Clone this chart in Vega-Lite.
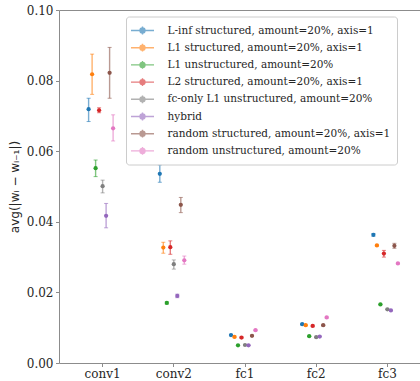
{
  "$schema": "https://vega.github.io/schema/vega-lite/v6.json",
  "width": 372,
  "height": 353,
  "autosize": "none",
  "padding": {"left": 59, "top": 10, "right": 0, "bottom": 18},
  "background": "white",
  "config": {
    "view": {"stroke": "#8c8c8c", "strokeWidth": 1},
    "axis": {
      "domain": false,
      "grid": false,
      "tickColor": "#8c8c8c",
      "tickSize": 3.5,
      "labelFont": "DejaVu Serif",
      "labelFontSize": 12,
      "labelColor": "#262626",
      "titleFont": "DejaVu Sans",
      "titleFontSize": 12,
      "titleFontWeight": "normal",
      "titleColor": "#262626"
    }
  },
  "data": {
    "values": [
      {"layer": "conv1", "method": "L-inf structured, amount=20%, axis=1", "mean": 0.0719, "lo": 0.0684, "hi": 0.0750},
      {"layer": "conv1", "method": "L1 structured, amount=20%, axis=1", "mean": 0.0818, "lo": 0.0761, "hi": 0.0875},
      {"layer": "conv1", "method": "L1 unstructured, amount=20%", "mean": 0.0552, "lo": 0.0528, "hi": 0.0575},
      {"layer": "conv1", "method": "L2 structured, amount=20%, axis=1", "mean": 0.0716, "lo": 0.0709, "hi": 0.0723},
      {"layer": "conv1", "method": "fc-only L1 unstructured, amount=20%", "mean": 0.0501, "lo": 0.0482, "hi": 0.0518},
      {"layer": "conv1", "method": "hybrid", "mean": 0.0417, "lo": 0.0383, "hi": 0.0452},
      {"layer": "conv1", "method": "random structured, amount=20%, axis=1", "mean": 0.0822, "lo": 0.0750, "hi": 0.0894},
      {"layer": "conv1", "method": "random unstructured, amount=20%", "mean": 0.0665, "lo": 0.0629, "hi": 0.0703},
      {"layer": "conv2", "method": "L-inf structured, amount=20%, axis=1", "mean": 0.0536, "lo": 0.0512, "hi": 0.0561},
      {"layer": "conv2", "method": "L1 structured, amount=20%, axis=1", "mean": 0.0327, "lo": 0.0311, "hi": 0.0342},
      {"layer": "conv2", "method": "L1 unstructured, amount=20%", "mean": 0.0170, "lo": 0.0167, "hi": 0.0173},
      {"layer": "conv2", "method": "L2 structured, amount=20%, axis=1", "mean": 0.0328, "lo": 0.0308, "hi": 0.0346},
      {"layer": "conv2", "method": "fc-only L1 unstructured, amount=20%", "mean": 0.0280, "lo": 0.0266, "hi": 0.0292},
      {"layer": "conv2", "method": "hybrid", "mean": 0.0190, "lo": 0.0185, "hi": 0.0195},
      {"layer": "conv2", "method": "random structured, amount=20%, axis=1", "mean": 0.0448, "lo": 0.0426, "hi": 0.0469},
      {"layer": "conv2", "method": "random unstructured, amount=20%", "mean": 0.0291, "lo": 0.0280, "hi": 0.0303},
      {"layer": "fc1", "method": "L-inf structured, amount=20%, axis=1", "mean": 0.0079, "lo": 0.0077, "hi": 0.0081},
      {"layer": "fc1", "method": "L1 structured, amount=20%, axis=1", "mean": 0.0074, "lo": 0.0072, "hi": 0.0076},
      {"layer": "fc1", "method": "L1 unstructured, amount=20%", "mean": 0.0050, "lo": 0.0049, "hi": 0.0051},
      {"layer": "fc1", "method": "L2 structured, amount=20%, axis=1", "mean": 0.0072, "lo": 0.0070, "hi": 0.0074},
      {"layer": "fc1", "method": "fc-only L1 unstructured, amount=20%", "mean": 0.0051, "lo": 0.0050, "hi": 0.0052},
      {"layer": "fc1", "method": "hybrid", "mean": 0.0050, "lo": 0.0049, "hi": 0.0051},
      {"layer": "fc1", "method": "random structured, amount=20%, axis=1", "mean": 0.0077, "lo": 0.0075, "hi": 0.0079},
      {"layer": "fc1", "method": "random unstructured, amount=20%", "mean": 0.0093, "lo": 0.0091, "hi": 0.0095},
      {"layer": "fc2", "method": "L-inf structured, amount=20%, axis=1", "mean": 0.0110, "lo": 0.0108, "hi": 0.0112},
      {"layer": "fc2", "method": "L1 structured, amount=20%, axis=1", "mean": 0.0107, "lo": 0.0105, "hi": 0.0109},
      {"layer": "fc2", "method": "L1 unstructured, amount=20%", "mean": 0.0076, "lo": 0.0075, "hi": 0.0077},
      {"layer": "fc2", "method": "L2 structured, amount=20%, axis=1", "mean": 0.0105, "lo": 0.0103, "hi": 0.0107},
      {"layer": "fc2", "method": "fc-only L1 unstructured, amount=20%", "mean": 0.0073, "lo": 0.0072, "hi": 0.0074},
      {"layer": "fc2", "method": "hybrid", "mean": 0.0075, "lo": 0.0074, "hi": 0.0076},
      {"layer": "fc2", "method": "random structured, amount=20%, axis=1", "mean": 0.0107, "lo": 0.0105, "hi": 0.0109},
      {"layer": "fc2", "method": "random unstructured, amount=20%", "mean": 0.0129, "lo": 0.0127, "hi": 0.0131},
      {"layer": "fc3", "method": "L-inf structured, amount=20%, axis=1", "mean": 0.0363, "lo": 0.0359, "hi": 0.0367},
      {"layer": "fc3", "method": "L1 structured, amount=20%, axis=1", "mean": 0.0333, "lo": 0.0331, "hi": 0.0335},
      {"layer": "fc3", "method": "L1 unstructured, amount=20%", "mean": 0.0166, "lo": 0.0165, "hi": 0.0167},
      {"layer": "fc3", "method": "L2 structured, amount=20%, axis=1", "mean": 0.0310, "lo": 0.0300, "hi": 0.0319},
      {"layer": "fc3", "method": "fc-only L1 unstructured, amount=20%", "mean": 0.0152, "lo": 0.0151, "hi": 0.0153},
      {"layer": "fc3", "method": "hybrid", "mean": 0.0149, "lo": 0.0148, "hi": 0.0150},
      {"layer": "fc3", "method": "random structured, amount=20%, axis=1", "mean": 0.0332, "lo": 0.0325, "hi": 0.0339},
      {"layer": "fc3", "method": "random unstructured, amount=20%", "mean": 0.0282, "lo": 0.0280, "hi": 0.0284}
    ]
  },
  "encoding": {
    "x": {
      "field": "layer",
      "type": "nominal",
      "sort": ["conv1", "conv2", "fc1", "fc2", "fc3"],
      "scale": {"paddingInner": 0, "paddingOuter": 0.1125},
      "axis": {"title": null, "labelAngle": 0, "labelPadding": 1.5}
    },
    "xOffset": {
      "field": "method",
      "type": "nominal",
      "sort": ["L-inf structured, amount=20%, axis=1", "L1 structured, amount=20%, axis=1", "L1 unstructured, amount=20%", "L2 structured, amount=20%, axis=1", "fc-only L1 unstructured, amount=20%", "hybrid", "random structured, amount=20%, axis=1", "random unstructured, amount=20%"],
      "scale": {"range": [19.85, 47.85], "paddingInner": 0, "paddingOuter": 0}
    },
    "color": {
      "field": "method",
      "type": "nominal",
      "scale": {
        "domain": ["L-inf structured, amount=20%, axis=1", "L1 structured, amount=20%, axis=1", "L1 unstructured, amount=20%", "L2 structured, amount=20%, axis=1", "fc-only L1 unstructured, amount=20%", "hybrid", "random structured, amount=20%, axis=1", "random unstructured, amount=20%"],
        "range": ["#1f77b4", "#ff7f0e", "#2ca02c", "#d62728", "#7f7f7f", "#9467bd", "#8c564b", "#e377c2"]
      },
      "legend": {
        "title": null,
        "orient": "none",
        "legendX": 67,
        "legendY": 6.5,
        "direction": "vertical",
        "symbolType": "M-1.77,0H1.77M0,-0.6V0.6M0.38,0A0.38,0.38 0 1,1 -0.38,0A0.38,0.38 0 1,1 0.38,0Z",
        "symbolSize": 169,
        "symbolStrokeWidth": 1.4,
        "symbolOffset": 2.5,
        "labelFont": "DejaVu Serif",
        "labelFontSize": 10.5,
        "labelColor": "#262626",
        "labelOffset": 17.5,
        "labelLimit": 600,
        "padding": 6.5,
        "rowPadding": 2.2,
        "fillColor": "rgba(255,255,255,0.8)",
        "strokeColor": "#cccccc",
        "cornerRadius": 3,
        "encode": {
          "symbols": {
            "update": {
              "fill": {"scale": "color", "field": "value"},
              "stroke": {"scale": "color", "field": "value"},
              "strokeOpacity": {"value": 0.6},
              "opacity": {"value": 1}
            }
          }
        }
      }
    }
  },
  "layer": [
    {
      "mark": {"type": "rule", "strokeWidth": 1.4, "opacity": 0.6},
      "encoding": {
        "y": {"field": "lo", "type": "quantitative", "scale": {"domain": [0, 0.1], "nice": false}, "axis": {"values": [0, 0.02, 0.04, 0.06, 0.08, 0.1], "format": ".2f", "labelPadding": 2.5, "title": "avg(|wᵢ − wᵢ₋₁|)", "titleX": -45, "titleY": 176.5, "titleAngle": -90, "titleAlign": "center", "titleBaseline": "middle"}},
        "y2": {"field": "hi"}
      }
    },
    {
      "mark": {"type": "tick", "size": 4, "thickness": 1, "opacity": 0.6},
      "encoding": {"y": {"field": "lo", "type": "quantitative", "title": "avg(|wᵢ − wᵢ₋₁|)"}}
    },
    {
      "mark": {"type": "tick", "size": 4, "thickness": 1, "opacity": 0.6},
      "encoding": {"y": {"field": "hi", "type": "quantitative", "title": "avg(|wᵢ − wᵢ₋₁|)"}}
    },
    {
      "mark": {"type": "point", "filled": true, "size": 18, "opacity": 1},
      "encoding": {"y": {"field": "mean", "type": "quantitative", "title": "avg(|wᵢ − wᵢ₋₁|)"}}
    }
  ]
}
